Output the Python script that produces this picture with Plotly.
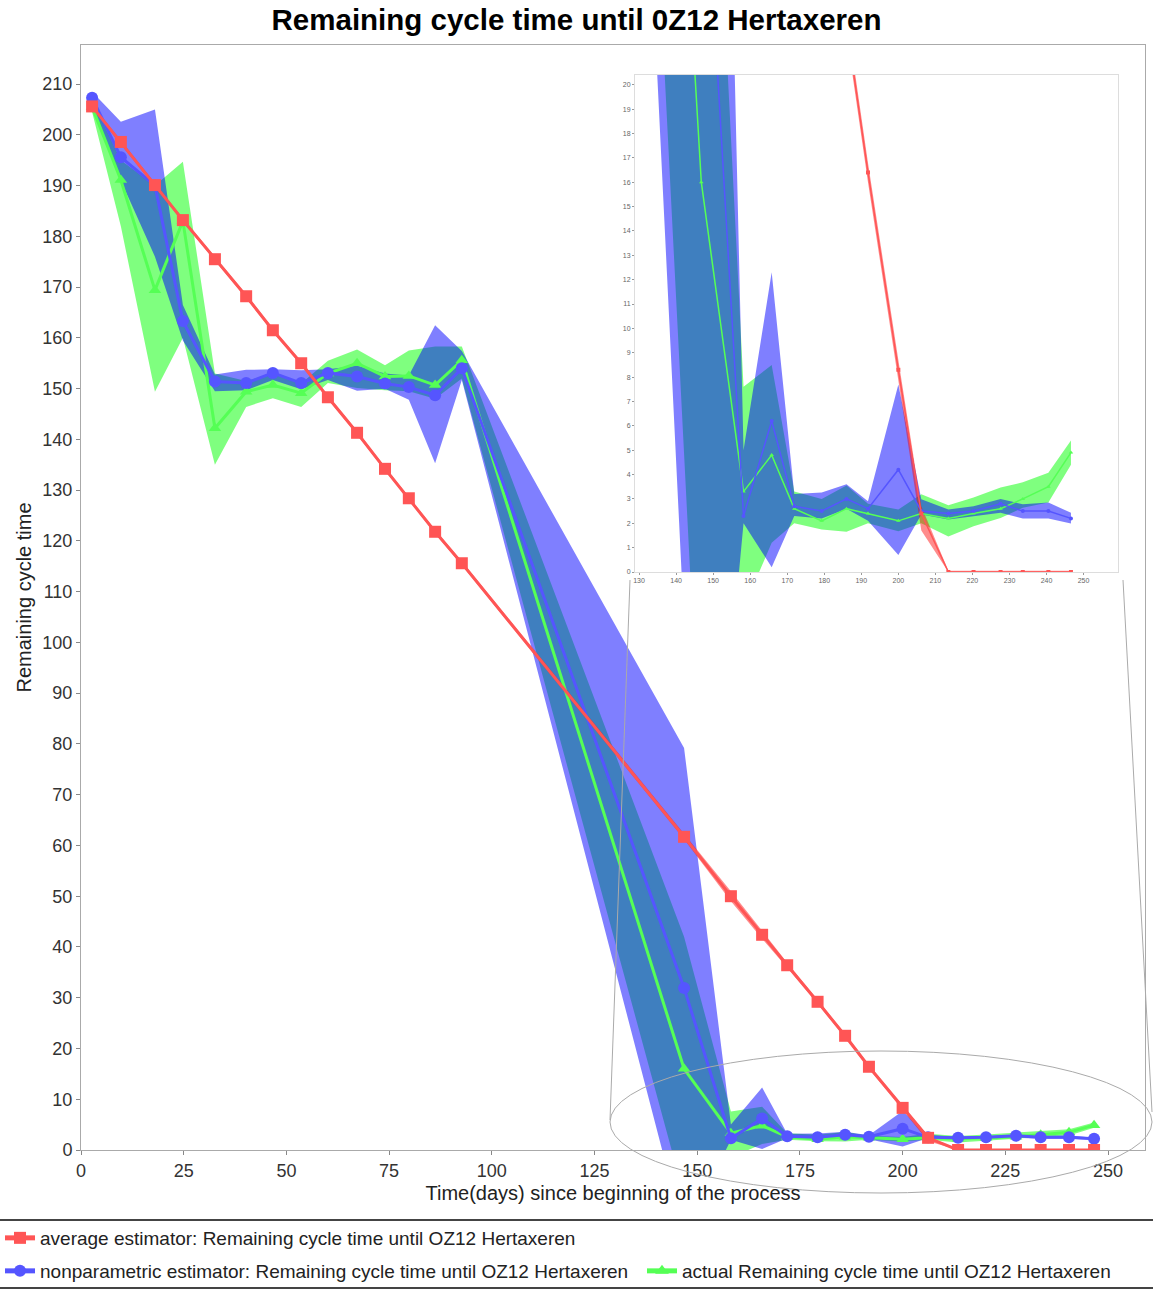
import plotly.graph_objects as go

# ---------------- data ----------------
days = [2.7, 9.7, 18.0, 24.8, 32.6, 40.2, 46.7, 53.6, 60.1, 67.2, 74.0, 79.8, 86.2, 92.7,
        146.8, 158.2, 165.8, 171.9, 179.3, 186.0, 191.8, 200.0, 206.2, 213.5, 220.3,
        227.6, 233.6, 240.5, 246.6]

avg = [205.6, 198.6, 190.1, 183.2, 175.5, 168.2, 161.5, 155.0, 148.3, 141.3, 134.2, 128.4,
       121.8, 115.6, 61.7, 50.0, 42.4, 36.4, 29.2, 22.5, 16.4, 8.3, 2.4, 0, 0, 0, 0, 0, 0]
avg_lo = [205.2, 198.2, 189.7, 182.8, 175.1, 167.8, 161.1, 154.6, 147.9, 140.9, 133.8, 128.0,
          121.4, 115.2, 61.2, 49.0, 41.6, 35.9, 28.8, 22.1, 16.0, 7.9, 1.7, 0, 0, 0, 0, 0, 0]
avg_hi = [206.0, 199.0, 190.5, 183.6, 175.9, 168.6, 161.9, 155.4, 148.7, 141.7, 134.6, 128.8,
          122.2, 116.0, 62.2, 51.0, 43.2, 36.9, 29.6, 22.9, 16.8, 8.7, 2.7, 0.05, 0.05, 0.05, 0.05, 0.05, 0.05]

nonparam = [207.3, 195.6, 190.0, 163.3, 151.4, 151.1, 153.1, 151.1, 153.1, 152.4, 151.0, 150.3,
            148.7, 154.0, 31.9, 2.3, 6.2, 2.7, 2.5, 3.0, 2.6, 4.2, 2.5, 2.4, 2.5, 2.8, 2.5, 2.5, 2.2]
nonparam_lo = [206.0, 191.0, 176.0, 159.5, 149.5, 149.7, 151.7, 149.9, 151.7, 149.6, 150.0, 147.8,
               135.3, 151.7, -16.6, 2.0, 0.2, 2.3, 2.2, 2.6, 2.1, 0.7, 2.36, 2.15, 2.3, 2.43, 2.2, 2.2, 1.99]
nonparam_hi = [208.5, 202.6, 205.0, 166.5, 152.8, 153.7, 153.8, 153.6, 153.8, 154.5, 153.0, 152.6,
               162.5, 157.4, 79.2, 5.0, 12.3, 3.2, 3.26, 3.6, 2.9, 7.7, 2.99, 2.57, 2.7, 3.0, 2.78, 2.85, 2.43]

actual = [205.5, 191.1, 169.4, 183.0, 142.2, 149.4, 150.7, 149.1, 153.0, 155.0, 152.4, 152.5,
          150.7, 155.6, 16.0, 3.3, 4.8, 2.6, 2.1, 2.6, 2.4, 2.1, 2.4, 2.2, 2.4, 2.6, 3.0, 3.5, 4.9]
actual_lo = [204.5, 182.0, 149.4, 160.0, 135.0, 146.4, 148.1, 146.4, 151.1, 150.1, 149.7, 149.5,
             148.0, 152.0, -9.0, -1.5, 1.2, 2.0, 1.74, 1.65, 2.0, 1.67, 2.0, 1.46, 1.88, 2.22, 2.64, 2.85, 4.4]
actual_hi = [207.0, 195.0, 190.0, 194.7, 153.0, 151.5, 153.0, 151.0, 155.5, 157.7, 154.6, 157.5,
             158.3, 158.3, 42.0, 7.6, 8.5, 3.3, 3.0, 3.55, 2.8, 2.57, 3.19, 2.74, 3.06, 3.47, 3.68, 4.07, 5.4]

main_xticks = [0, 25, 50, 75, 100, 125, 150, 175, 200, 225, 250]
main_yticks = list(range(0, 211, 10))
inset_xticks = list(range(130, 251, 10))
inset_yticks = list(range(0, 21, 1))

title = "Remaining cycle time until 0Z12 Hertaxeren"
names = ["average estimator: Remaining cycle time until OZ12 Hertaxeren",
         "nonparametric estimator: Remaining cycle time until OZ12 Hertaxeren",
         "actual Remaining cycle time until OZ12 Hertaxeren"]

# ---------------- layout geometry (pixels) ----------------
W, H = 1153, 1292
L, R, T, B = 81, 1145, 45, 1150


def pxx(p):
    return (p - L) / (R - L)


def pxy(p):
    return (B - p) / (B - T)


RED, BLUE, GREEN = "#ff5555", "#5555ff", "#55ff55"
RED_F, BLUE_F, GREEN_F = "rgba(255,0,0,0.45)", "rgba(0,0,255,0.5)", "rgba(0,255,0,0.5)"
FONT = "Liberation Sans, Arial, sans-serif"

fig = go.Figure()

series = [
    (avg, avg_lo, avg_hi, RED, RED_F, "square", names[0], "legend"),
    (nonparam, nonparam_lo, nonparam_hi, BLUE, BLUE_F, "circle", names[1], "legend2"),
    (actual, actual_lo, actual_hi, GREEN, GREEN_F, "triangle-up", names[2], "legend3"),
]
band_order = [2, 1, 0]
line_order = [2, 1, 0]

for xa, ya, main in [("x", "y", True), ("x2", "y2", False)]:
    for i in band_order:
        v, lo, hi, c, f, sym, nm, lg = series[i]
        fig.add_trace(go.Scatter(
            x=days + days[::-1], y=hi + lo[::-1], fill="toself", fillcolor=f,
            line=dict(width=0), mode="lines", hoverinfo="skip", showlegend=False,
            xaxis=xa, yaxis=ya))
    for i in line_order:
        v, lo, hi, c, f, sym, nm, lg = series[i]
        fig.add_trace(go.Scatter(
            x=days, y=v, mode="lines+markers", name=nm,
            line=dict(color=c, width=3 if main else 1.5),
            marker=dict(symbol=sym, color=c, size=(12 if sym != "triangle-up" else 11) if main else 4),
            showlegend=main, legend=lg, xaxis=xa, yaxis=ya, cliponaxis=True))

axis_common = dict(showgrid=False, zeroline=False, ticks="outside", showline=True, mirror=True)
leg_common = dict(orientation="h", xref="container", yref="container", xanchor="left",
                  yanchor="middle", bgcolor="rgba(0,0,0,0)",
                  font=dict(size=19, color="#222"), itemwidth=30, itemsizing="constant")

fig.update_layout(
    width=W, height=H,
    margin=dict(l=L, r=W - R, t=T, b=H - B, autoexpand=False),
    paper_bgcolor="white", plot_bgcolor="white",
    font=dict(family=FONT, size=18, color="#222"),
    title=dict(text=title, x=0.5, xref="container", xanchor="center",
               y=1 - 20 / H, yref="container", yanchor="middle",
               font=dict(family=FONT, size=29.5, color="black", weight="bold")),
    xaxis=dict(range=[0, 259], tickvals=main_xticks, linecolor="#aaaaaa", tickcolor="#888888",
               ticklen=4, tickfont=dict(size=18, color="#333"),
               title=dict(text="Time(days) since beginning of the process", standoff=6,
                          font=dict(size=20, color="#222")),
               **axis_common),
    yaxis=dict(range=[0, 217.7], tickvals=main_yticks, linecolor="#aaaaaa", tickcolor="#888888",
               ticklen=4, tickfont=dict(size=18, color="#333"),
               title=dict(text="Remaining cycle time", standoff=5, font=dict(size=20, color="#222")),
               **axis_common),
    xaxis2=dict(domain=[pxx(635), pxx(1118)], range=[128.9, 259.3], tickvals=inset_xticks,
                anchor="y2", linecolor="#dddddd", tickcolor="#999999", ticklen=2,
                tickfont=dict(size=7, color="#666"), **axis_common),
    yaxis2=dict(domain=[pxy(572), pxy(75)], range=[0, 20.4], tickvals=inset_yticks,
                anchor="x2", linecolor="#dddddd", tickcolor="#999999", ticklen=2,
                tickfont=dict(size=7, color="#666"), **axis_common),
    legend=dict(x=0, y=1 - 1238 / H, **leg_common),
    legend2=dict(x=0, y=1 - 1271 / H, **leg_common),
    legend3=dict(x=642 / W, y=1 - 1271 / H, **leg_common),
    shapes=[
        dict(type="circle", xref="paper", yref="paper", x0=pxx(610), x1=pxx(1152),
             y0=pxy(1193), y1=pxy(1051), line=dict(color="#aaaaaa", width=1), layer="above"),
        dict(type="line", xref="paper", yref="paper", x0=pxx(630), y0=pxy(580),
             x1=pxx(610), y1=pxy(1120), line=dict(color="#aaaaaa", width=1)),
        dict(type="line", xref="paper", yref="paper", x0=pxx(1123), y0=pxy(580),
             x1=pxx(1152), y1=pxy(1112), line=dict(color="#aaaaaa", width=1)),
        dict(type="line", xref="paper", yref="paper", x0=pxx(0), y0=pxy(1220),
             x1=pxx(1153), y1=pxy(1220), line=dict(color="#444444", width=2)),
        dict(type="line", xref="paper", yref="paper", x0=pxx(0), y0=pxy(1288),
             x1=pxx(1153), y1=pxy(1288), line=dict(color="#444444", width=2)),
    ],
)

fig.write_html("out.html", config={"displayModeBar": False},
               post_script="document.body.style.margin='0';document.body.style.padding='0';")
